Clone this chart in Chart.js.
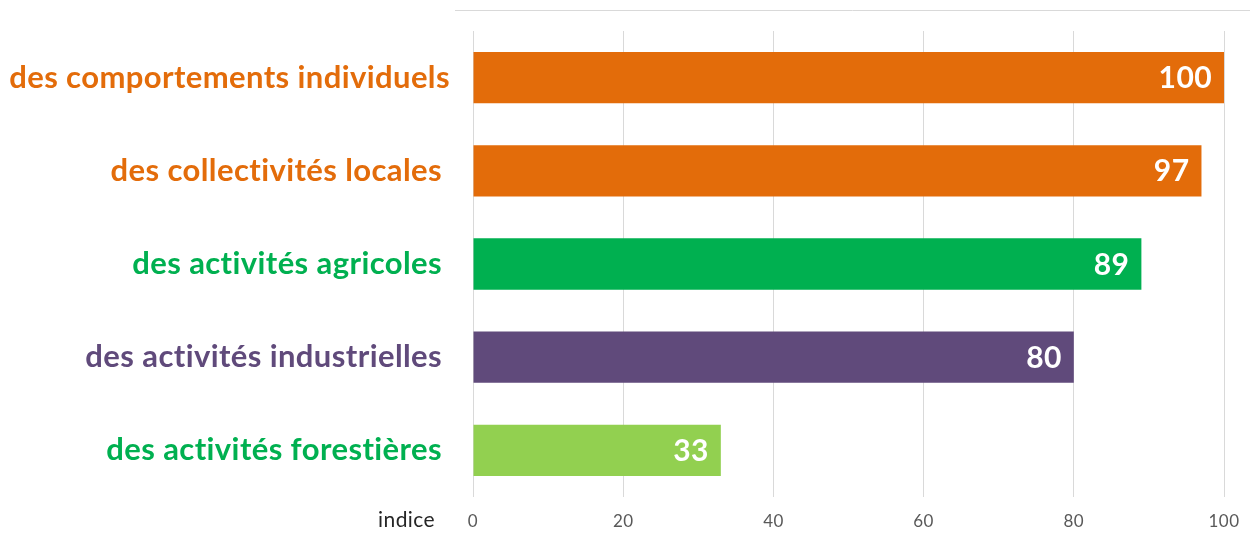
<!DOCTYPE html>
<html>
<head>
<meta charset="utf-8">
<script src="https://cdn.jsdelivr.net/npm/chart.js@4/dist/chart.umd.min.js"></script>
<style>
  html, body { margin: 0; padding: 0; background: #fff; }
  #wrap { width: 1250px; height: 536px; }
</style>
</head>
<body>
<div id="wrap"><canvas id="chart" width="1250" height="536"></canvas></div>
<script>
// trailing spaces kept as in the source slide
const categories = [
  "des comportements individuels",
  "des collectivités locales ",
  "des activités agricoles ",
  "des activités industrielles ",
  "des activités forestières "
];
const values = [100, 97, 89, 80, 33];
const barColors = ["#e36c0a", "#e36c0a", "#00b050", "#604a7b", "#92d050"];
const labelColors = ["#e36c0a", "#e36c0a", "#00b050", "#604a7b", "#00b050"];
const xTicks = [0, 20, 40, 60, 80, 100];
const axisName = "indice";

const FONT = "Lato, 'Open Sans', sans-serif";

// white value labels drawn inside the bar end
const valueLabels = {
  id: "valueLabels",
  afterDatasetsDraw(chart) {
    const ctx = chart.ctx;
    const meta = chart.getDatasetMeta(0);
    ctx.save();
    ctx.font = `bold 30px ${FONT}`;
    ctx.fillStyle = "#ffffff";
    ctx.textAlign = "right";
    ctx.textBaseline = "middle";
    meta.data.forEach((bar, i) => {
      ctx.fillText(String(values[i]), bar.x - 12, bar.y + 1);
    });
    ctx.restore();
  }
};

// thin rule above the plot and the axis name left of the ticks
const extras = {
  id: "extras",
  beforeDraw(chart) {
    const ctx = chart.ctx;
    // a touch of spacing also keeps Lato from joining "ti"
    ctx.letterSpacing = "0.4px";
    ctx.save();
    ctx.strokeStyle = "#d9d9d9";
    ctx.lineWidth = 1;
    ctx.beginPath();
    ctx.moveTo(455, 10.5);
    ctx.lineTo(1250, 10.5);
    ctx.stroke();
    ctx.restore();
  },
  afterDraw(chart) {
    const ctx = chart.ctx;
    const x = chart.scales.x;
    ctx.save();
    ctx.font = `21px ${FONT}`;
    ctx.fillStyle = "#262626";
    ctx.textAlign = "right";
    ctx.textBaseline = "middle";
    ctx.fillText(axisName, x.left - 38, 520);
    ctx.restore();
  }
};

new Chart(document.getElementById("chart"), {
  type: "bar",
  data: {
    labels: categories,
    datasets: [{
      data: values,
      backgroundColor: barColors,
      borderWidth: 0,
      barPercentage: 0.55,
      categoryPercentage: 1
    }]
  },
  options: {
    indexAxis: "y",
    responsive: false,
    animation: false,
    layout: { padding: { top: 31, right: 26, left: 0, bottom: 0 } },
    plugins: { legend: { display: false }, tooltip: { enabled: false } },
    scales: {
      x: {
        min: 0,
        max: 100,
        afterBuildTicks: (s) => { s.ticks = xTicks.map((v) => ({ value: v })); },
        afterFit: (s) => { s.height = 39; s.paddingLeft = 0; s.paddingRight = 0; },
        grid: { color: "#d9d9d9", drawTicks: false },
        border: { display: false },
        ticks: { padding: 14, color: "#595959", font: { family: FONT, size: 17 } }
      },
      y: {
        afterFit: (s) => { s.width = 473; s.paddingTop = 0; s.paddingBottom = 0; },
        grid: { display: false, drawTicks: false },
        border: { display: false },
        ticks: {
          padding: 23,
          color: (c) => labelColors[c.index],
          font: { family: FONT, size: 31, weight: "bold" }
        }
      }
    }
  },
  plugins: [valueLabels, extras]
});
</script>
</body>
</html>
